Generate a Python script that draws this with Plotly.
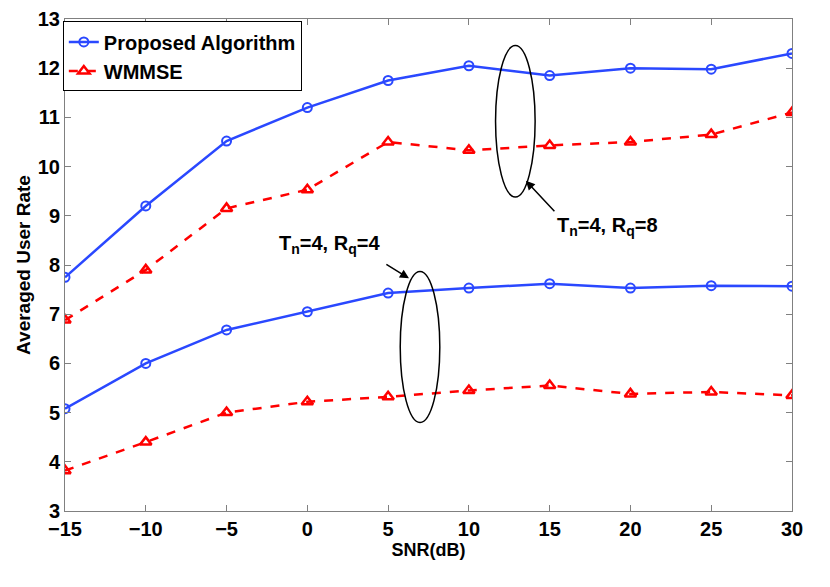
import plotly.graph_objects as go

snr_db = [-15, -10, -5, 0, 5, 10, 15, 20, 25, 30]
snr_labels = ["\u221215", "\u221210", "\u22125", "0", "5", "10", "15", "20", "25", "30"]

# Tn=4, Rq=8
proposed_rq8 = [7.75, 9.2, 10.52, 11.2, 11.75, 12.05, 11.85, 12.0, 11.98, 12.3]
wmmse_rq8 = [6.88, 7.9, 9.15, 9.53, 10.5, 10.33, 10.43, 10.5, 10.65, 11.1]

# Tn=4, Rq=4
proposed_rq4 = [5.08, 6.0, 6.68, 7.05, 7.43, 7.53, 7.62, 7.53, 7.58, 7.57]
wmmse_rq4 = [3.82, 4.4, 5.0, 5.22, 5.32, 5.45, 5.55, 5.38, 5.42, 5.35]

BLUE = "#2a48ff"
RED = "#ff0000"
FONT = "Liberation Sans"

fig = go.Figure()


def add_pair(prop, wm, show):
    fig.add_trace(go.Scatter(x=snr_db, y=prop, mode="lines+markers", name="Proposed Algorithm",
                             line=dict(color=BLUE, width=2.5),
                             marker=dict(symbol="circle-open", size=9, color=BLUE, line=dict(width=2)),
                             showlegend=show, legendgroup="p"))
    fig.add_trace(go.Scatter(x=snr_db, y=wm, mode="lines+markers", name="WMMSE",
                             line=dict(color=RED, width=2.5, dash="dash"),
                             marker=dict(symbol="triangle-up-open", size=10, color=RED, line=dict(width=2.5)),
                             showlegend=show, legendgroup="w"))


add_pair(proposed_rq8, wmmse_rq8, True)
add_pair(proposed_rq4, wmmse_rq4, False)

# ellipses around the curve groups
fig.add_shape(type="circle", xref="x", yref="y", x0=11.65, x1=14.1, y0=9.38, y1=12.46,
              line=dict(color="black", width=1.5))
fig.add_shape(type="circle", xref="x", yref="y", x0=5.75, x1=8.2, y0=4.8, y1=7.87,
              line=dict(color="black", width=1.5))

# arrows + labels
fig.add_annotation(x=13.53, y=9.71, ax=15.38, ay=9.06, axref="x", ayref="y", xref="x", yref="y",
                   text="", showarrow=True, arrowhead=2, arrowsize=1.2, arrowwidth=1.5, arrowcolor="black")
fig.add_annotation(x=6.29, y=7.73, ax=4.8, ay=8.03, axref="x", ayref="y", xref="x", yref="y",
                   text="", showarrow=True, arrowhead=2, arrowsize=1.2, arrowwidth=1.5, arrowcolor="black")
fig.add_annotation(x=18.6, y=8.78, xref="x", yref="y", showarrow=False,
                   text="T<sub>n</sub>=4, R<sub>q</sub>=8",
                   font=dict(family=FONT, size=20, color="black", weight="bold"))
fig.add_annotation(x=1.4, y=8.41, xref="x", yref="y", showarrow=False,
                   text="T<sub>n</sub>=4, R<sub>q</sub>=4",
                   font=dict(family=FONT, size=20, color="black", weight="bold"))

axis_common = dict(showgrid=False, zeroline=False, showline=True, linecolor="#808080", linewidth=1,
                   mirror="ticks", ticks="inside", ticklen=6, tickcolor="#808080", automargin=False,
                   ticklabeloverflow="allow",
                   tickfont=dict(family=FONT, size=20, color="black", weight="bold"))

fig.update_xaxes(range=[-15, 30], tickvals=snr_db, ticktext=snr_labels,
                 title=dict(text="SNR(dB)", standoff=0,
                            font=dict(family=FONT, size=18, color="black", weight="bold")),
                 **axis_common)
fig.update_yaxes(range=[3, 13], dtick=1, ticklabelstandoff=0,
                 title=dict(text="Averaged User Rate", standoff=2,
                            font=dict(family=FONT, size=19, color="black", weight="bold")),
                 **axis_common)

# page body has an 8px margin, so the figure is shrunk by that amount
fig.update_layout(
    width=822, height=579,
    margin=dict(l=57, r=38, t=11, b=76),
    plot_bgcolor="white", paper_bgcolor="white",
    legend=dict(x=-0.003, y=0.995, xanchor="left", yanchor="top", bgcolor="white",
                bordercolor="black", borderwidth=1, tracegroupgap=0, itemwidth=30,
                font=dict(family=FONT, size=20, color="black", weight="bold")),
)

fig.write_html("out.html")
